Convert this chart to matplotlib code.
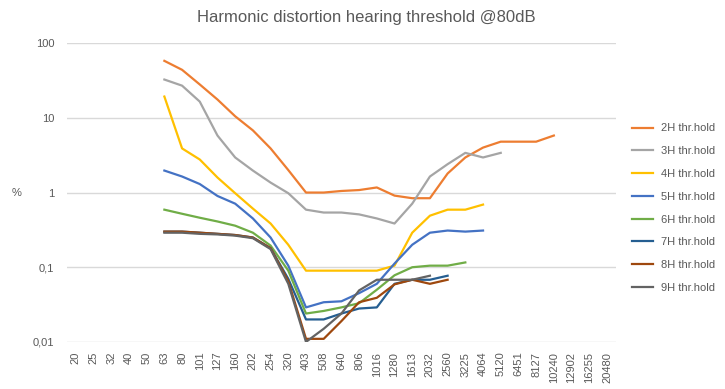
import numpy as np
import matplotlib
matplotlib.use("Agg")
import matplotlib.pyplot as plt

plt.rcParams['font.family'] = ['Liberation Sans', 'DejaVu Sans']

freqs = ["20", "25", "32", "40", "50", "63", "80", "101", "127", "160", "202", "254",
         "320", "403", "508", "640", "806", "1016", "1280", "1613", "2032", "2560",
         "3225", "4064", "5120", "6451", "8127", "10240", "12902", "16255", "20480"]

# values start at 63 Hz (index 5)
h2 = [58, 44, 28, 17.6, 10.5, 6.8, 3.9, 2.0, 1.0, 1.0, 1.05, 1.08, 1.17, 0.91, 0.84, 0.84,
      1.8, 2.95, 4.0, 4.8, 4.8, 4.8, 5.8]
h3 = [32.6, 27, 16.5, 5.8, 2.95, 1.97, 1.36, 0.98, 0.59, 0.54, 0.54, 0.51, 0.45, 0.385,
      0.71, 1.64, 2.4, 3.4, 2.95, 3.4]
h4 = [19.3, 3.9, 2.77, 1.59, 0.98, 0.61, 0.385, 0.2, 0.09, 0.09, 0.09, 0.09, 0.09, 0.105,
      0.29, 0.49, 0.59, 0.59, 0.69]
h5 = [1.97, 1.64, 1.3, 0.9, 0.71, 0.45, 0.25, 0.105, 0.029, 0.034, 0.035, 0.045, 0.06,
      0.112, 0.2, 0.29, 0.31, 0.30, 0.31]
h6 = [0.59, 0.52, 0.46, 0.41, 0.36, 0.29, 0.195, 0.09, 0.024, 0.026, 0.029, 0.033, 0.05,
      0.078, 0.1, 0.105, 0.105, 0.116]
h7 = [0.3, 0.3, 0.29, 0.28, 0.27, 0.25, 0.18, 0.07, 0.02, 0.02, 0.024, 0.028, 0.029,
      0.06, 0.068, 0.068, 0.077]
h8 = [0.3, 0.3, 0.29, 0.28, 0.27, 0.25, 0.18, 0.065, 0.011, 0.011, 0.019, 0.034, 0.039,
      0.059, 0.068, 0.06, 0.068]
h9 = [0.29, 0.29, 0.28, 0.275, 0.265, 0.245, 0.175, 0.06, 0.01, 0.015, 0.024, 0.049,
      0.068, 0.068, 0.068, 0.077]

series = [("2H thr.hold", h2, "#ED7D31"), ("3H thr.hold", h3, "#A5A5A5"),
          ("4H thr.hold", h4, "#FFC000"), ("5H thr.hold", h5, "#4472C4"),
          ("6H thr.hold", h6, "#70AD47"), ("7H thr.hold", h7, "#255E91"),
          ("8H thr.hold", h8, "#9E480E"), ("9H thr.hold", h9, "#636363")]

start = 5
txt = "#595959"

fig = plt.figure(figsize=(7.25, 3.89), dpi=100)
ax = fig.add_axes([0.0924, 0.121, 0.757, 0.768])

for name, vals, col in series:
    x = np.arange(start, start + len(vals))
    ax.plot(x, vals, color=col, lw=1.6, label=name, solid_joinstyle="round")

ax.set_yscale("log")
ax.set_ylim(0.01, 100)
ax.set_yticks([0.01, 0.1, 1, 10, 100])
ax.set_yticklabels(["0,01", "0,1", "1", "10", "100"])
ax.yaxis.set_minor_locator(matplotlib.ticker.NullLocator())
ax.set_xlim(-0.5, len(freqs) - 0.5)
ax.set_xticks(np.arange(len(freqs)))
ax.set_xticklabels(freqs, rotation=90)
ax.tick_params(axis="both", length=0, colors=txt, labelsize=8)
ax.tick_params(axis="x", pad=7)
ax.tick_params(axis="y", pad=9)
ax.grid(axis="y", color="#D9D9D9", lw=1)
ax.set_axisbelow(True)
for s in ax.spines.values():
    s.set_visible(False)

ax.set_ylabel("%", rotation=0, color=txt, fontsize=8, va="center", ha="center")
ax.yaxis.set_label_coords(-0.091, 0.5)

fig.text(0.505, 0.956, "Harmonic distortion hearing threshold @80dB", ha="center", va="center",
         fontsize=12, color=txt)

leg = fig.legend(loc="center left", bbox_to_anchor=(0.872, 0.465), frameon=False, fontsize=8,
                 handlelength=1.9, handletextpad=0.7, labelspacing=1.15, borderpad=0,
                 borderaxespad=0)
for t in leg.get_texts():
    t.set_color(txt)

fig.savefig("out.png", dpi=100)
